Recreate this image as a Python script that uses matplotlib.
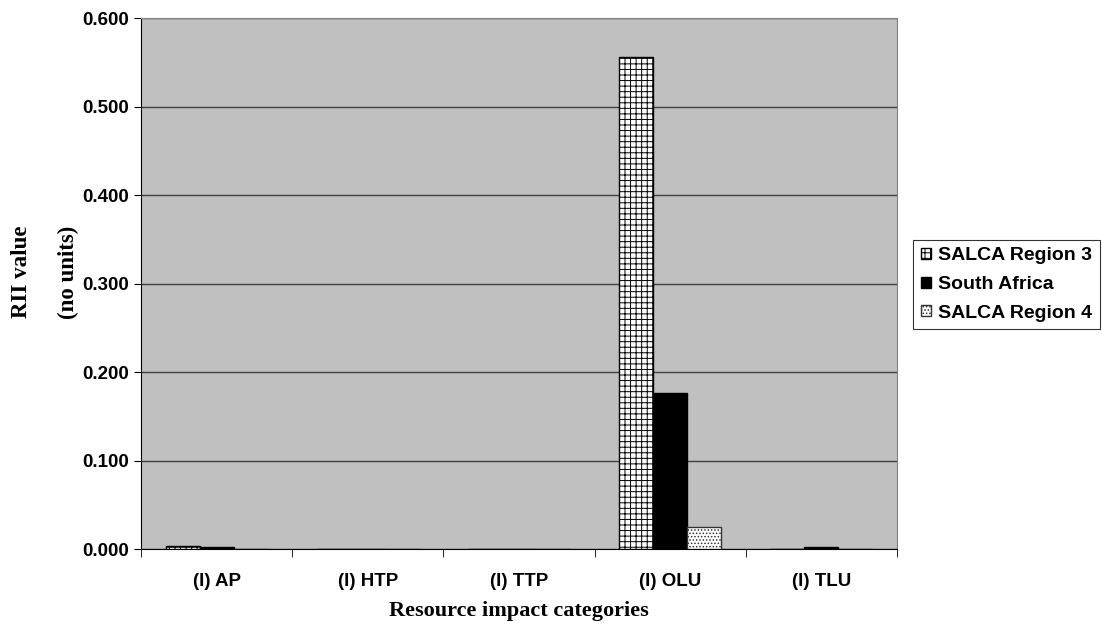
import numpy as np
import matplotlib as mpl
import matplotlib.pyplot as plt

mpl.rcParams['hatch.linewidth'] = 0.7

categories = ['(I) AP', '(I) HTP', '(I) TTP', '(I) OLU', '(I) TLU']
salca3 = [0.003, 0.0, 0.0, 0.556, 0.0]
south_africa = [0.002, 0.0, 0.0, 0.177, 0.002]
salca4 = [0.0, 0.0, 0.0, 0.025, 0.0]
yticks = [0.0, 0.1, 0.2, 0.3, 0.4, 0.5, 0.6]

fig = plt.figure(figsize=(11.02, 6.29), dpi=100)
ax = fig.add_axes([0.128, 0.127, 0.686, 0.844])
ax.set_facecolor('#C0C0C0')

x = np.arange(len(categories))
w = 0.225
ax.bar(x - w, salca3, w, color='white', edgecolor='black', hatch='+++', linewidth=1, label='SALCA Region 3', zorder=3)
ax.bar(x, south_africa, w, color='black', edgecolor='black', linewidth=1, label='South Africa', zorder=3)
ax.bar(x + w, salca4, w, color='white', edgecolor='#333333', hatch='.....', linewidth=1, label='SALCA Region 4', zorder=3)

ax.set_xlim(-0.5, len(categories) - 0.5)
ax.set_ylim(0, 0.6)
ax.set_yticks(yticks)
ax.set_yticklabels(['%.3f' % v for v in yticks], fontsize=13.5, fontweight='bold', family='Liberation Sans')
ax.yaxis.grid(True, color='#404040', linewidth=1, zorder=0)
ax.set_axisbelow(True)

ax.set_xticks(x)
ax.set_xticklabels(categories, fontsize=13.5, fontweight='bold', family='Liberation Sans')
ax.tick_params(axis='x', which='major', length=0, pad=17)
ax.set_xticks(np.arange(-0.5, len(categories)), minor=True)
ax.tick_params(axis='x', which='minor', length=6, direction='out')
ax.tick_params(axis='y', length=5, direction='out', pad=4)

ax.spines['left'].set_color('black')
ax.spines['bottom'].set_color('black')
ax.spines['top'].set_color('#808080')
ax.spines['right'].set_color('#808080')

ax.set_xlabel('Resource impact categories', fontsize=16, fontweight='bold', family='Liberation Serif', labelpad=8)

# two-line y label, lines set far apart as in the original
fig.text(22 / 1102, 1 - 272 / 629, 'RII value', rotation=90, ha='center', va='center',
         fontsize=16.5, fontweight='bold', family='Liberation Serif')
fig.text(68 / 1102, 1 - 272 / 629, '(no units)', rotation=90, ha='center', va='center',
         fontsize=16.5, fontweight='bold', family='Liberation Serif')

leg = fig.legend(loc='center left', bbox_to_anchor=(913 / 1102, 1 - 284.5 / 629), fancybox=False, edgecolor='black',
                 handlelength=0.5, handleheight=0.5, handletextpad=0.4, borderpad=0.4, labelspacing=0.6,
                 borderaxespad=0, prop={'family': 'Liberation Sans', 'weight': 'bold', 'size': 14})
leg.get_frame().set_linewidth(0.8)

fig.savefig('out.png', dpi=100)
